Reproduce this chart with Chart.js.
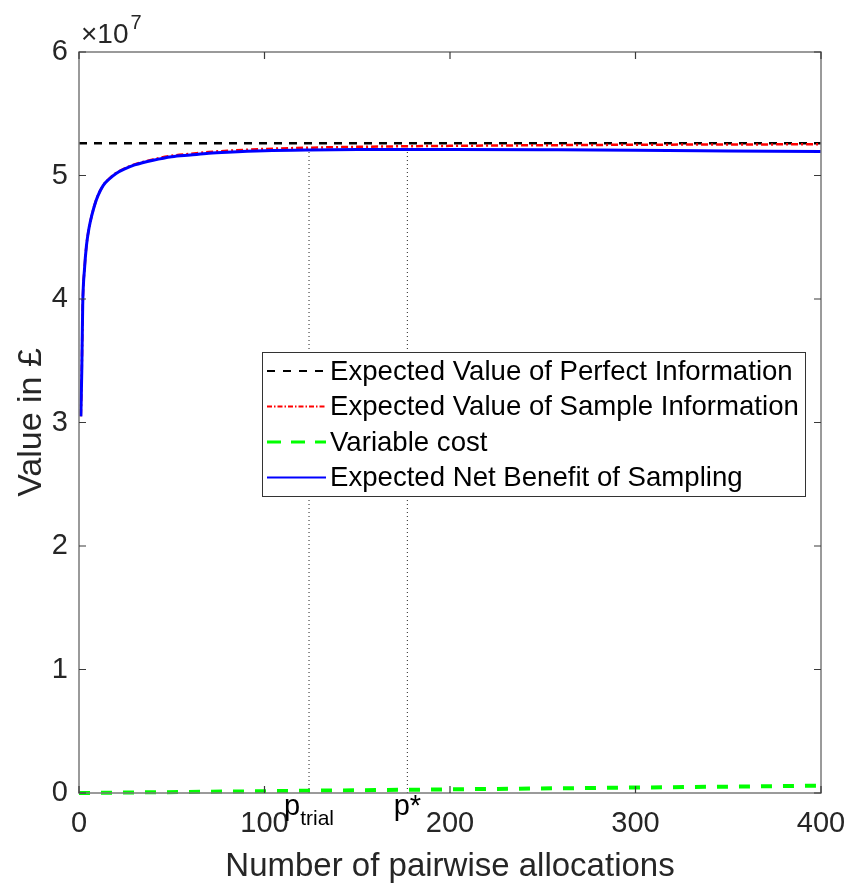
<!DOCTYPE html>
<html>
<head>
<meta charset="utf-8">
<script src="https://cdn.jsdelivr.net/npm/chart.js@4/dist/chart.umd.min.js"></script>
<style>
  html, body { margin: 0; padding: 0; background: #fff; }
  canvas { display: block; }
</style>
</head>
<body>
<canvas id="chart" width="848" height="887"></canvas>
<script>
// Number of pairwise allocations at which each curve is evaluated
const allocations = [1, 1.5, 2, 3, 4, 5, 6, 8, 10, 13, 16, 20, 25, 30, 40, 50, 60, 70, 80, 100, 124, 150, 177, 200, 250, 300, 350, 400];

// Expected Value of Sample Information (£)
const evsi = [30500000, 34200000, 39500000, 42500000, 44300000, 45400000, 46200000, 47400000, 48300000, 49200000, 49700000, 50200000, 50600000, 50900000, 51300000, 51600000, 51750000, 51900000, 52000000, 52150000, 52250000, 52320000, 52370000, 52400000, 52450000, 52490000, 52510000, 52530000];

// Expected Net Benefit of Sampling (£)
const enbs = [30498500, 34197800, 39497000, 42495600, 44294100, 45392600, 46191200, 47388200, 48285300, 49180800, 49676400, 50170500, 50563100, 50855800, 51241000, 51526300, 51661500, 51796800, 51882000, 52002500, 52067100, 52098800, 52108900, 52105000, 52081300, 52047500, 51993800, 51940000];

// Variable cost of the trial (£)
const costAllocations = [0, 100, 200, 300, 400];
const variableCost = [0, 147500, 295000, 442500, 590000];

// Expected Value of Perfect Information (£)
const evpiAllocations = [0, 400];
const evpi = [52610000, 52610000];

// Trial size actually used and the optimal sample size
const pTrial = 124;
const pStar = 177;
const enbsAtTrial = 52067100;
const enbsAtStar = 52108900;

// Axis ticks
const xTicks = [0, 100, 200, 300, 400];
const yTicks = [0, 1e7, 2e7, 3e7, 4e7, 5e7, 6e7];

const pts = (xs, ys) => xs.map((v, i) => ({ x: v, y: ys[i] }));

const TEXT = '#262626';
const FONT = "'Liberation Sans', Arial, Helvetica, sans-serif";
const TICK_SIZE = 29;

// Box, inward ticks, exponent label and sample-size labels
const axesFrame = {
  id: 'axesFrame',
  afterDatasetsDraw(chart) {
    const { ctx, chartArea: a, scales: { x, y } } = chart;
    ctx.save();
    ctx.strokeStyle = '#7a7a7a';
    ctx.lineWidth = 1.5;
    ctx.strokeRect(a.left, a.top, a.right - a.left, a.bottom - a.top);
    ctx.strokeStyle = '#3a3a3a';
    ctx.lineWidth = 1.2;
    const tl = 7;
    ctx.beginPath();
    xTicks.forEach(v => {
      const px = x.getPixelForValue(v);
      ctx.moveTo(px, a.bottom); ctx.lineTo(px, a.bottom - tl);
      ctx.moveTo(px, a.top); ctx.lineTo(px, a.top + tl);
    });
    yTicks.forEach(v => {
      const py = y.getPixelForValue(v);
      ctx.moveTo(a.left, py); ctx.lineTo(a.left + tl, py);
      ctx.moveTo(a.right, py); ctx.lineTo(a.right - tl, py);
    });
    ctx.stroke();

    // ×10^7 exponent
    ctx.fillStyle = TEXT;
    ctx.textBaseline = 'alphabetic';
    ctx.textAlign = 'left';
    ctx.font = `28px ${FONT}`;
    ctx.fillText('\u00d710', a.left + 2, a.top - 9);
    const w = ctx.measureText('\u00d710').width;
    ctx.font = `20px ${FONT}`;
    ctx.fillText('7', a.left + 2 + w + 2, a.top - 23);

    // p_trial and p* labels
    ctx.fillStyle = '#000';
    const base = a.bottom + 22;
    ctx.font = `${TICK_SIZE}px ${FONT}`;
    const pw = ctx.measureText('p').width;
    ctx.font = `21px ${FONT}`;
    const tw = ctx.measureText('trial').width;
    const px = x.getPixelForValue(pTrial) - (pw + tw) / 2;
    ctx.font = `${TICK_SIZE}px ${FONT}`;
    ctx.fillText('p', px, base);
    ctx.font = `21px ${FONT}`;
    ctx.fillText('trial', px + pw, base + 10);
    ctx.font = `${TICK_SIZE}px ${FONT}`;
    const sw = ctx.measureText('p*').width;
    ctx.fillText('p*', x.getPixelForValue(pStar) - sw / 2, base);
    ctx.restore();
  }
};

// Legend box inside the plot
const boxLegend = {
  id: 'boxLegend',
  afterDraw(chart) {
    const { ctx } = chart;
    const items = chart.data.datasets.filter(d => d.inLegend);
    const left = 262, top = 352, right = 805, rowH = 35.5;
    ctx.save();
    ctx.fillStyle = '#fff';
    ctx.fillRect(left, top, right - left, rowH * items.length + 2);
    ctx.strokeStyle = '#333';
    ctx.lineWidth = 1;
    ctx.strokeRect(left + 0.5, top + 0.5, right - left, rowH * items.length + 2);
    ctx.font = `27.6px ${FONT}`;
    ctx.textBaseline = 'middle';
    ctx.textAlign = 'left';
    items.forEach((d, i) => {
      const cy = top + 19 + i * rowH;
      ctx.strokeStyle = d.borderColor;
      ctx.lineWidth = d.legendWidth;
      ctx.setLineDash(d.legendDash || []);
      ctx.beginPath();
      ctx.moveTo(267, cy); ctx.lineTo(326, cy);
      ctx.stroke();
      ctx.setLineDash([]);
      ctx.fillStyle = '#000';
      ctx.fillText(d.label, 330, cy + 1);
    });
    ctx.restore();
  }
};

const lineBase = { pointRadius: 0, fill: false, clip: false, tension: 0 };

new Chart(document.getElementById('chart'), {
  type: 'line',
  data: {
    datasets: [
      { ...lineBase, label: 'Expected Value of Perfect Information', data: pts(evpiAllocations, evpi),
        borderColor: '#000000', borderWidth: 2.5, borderDash: [8, 7], legendWidth: 2, legendDash: [8, 8],
        order: 6, inLegend: true },
      { ...lineBase, label: 'Expected Value of Sample Information', data: pts(allocations, evsi),
        borderColor: '#ff0000', borderWidth: 2.5, borderDash: [7, 3, 2, 3], legendWidth: 2, legendDash: [5, 2, 1.5, 2],
        order: 5, inLegend: true, cubicInterpolationMode: 'monotone' },
      { ...lineBase, label: 'Variable cost', data: pts(costAllocations, variableCost),
        borderColor: '#00ff00', borderWidth: 4, borderDash: [11, 11], legendWidth: 3, legendDash: [14, 10],
        order: 4, inLegend: true },
      { ...lineBase, label: 'Expected Net Benefit of Sampling', data: pts(allocations, enbs),
        borderColor: '#0000ff', borderWidth: 3, legendWidth: 2, order: 3, inLegend: true,
        cubicInterpolationMode: 'monotone' },
      { ...lineBase, label: 'p_trial', data: [{ x: pTrial, y: 0 }, { x: pTrial, y: enbsAtTrial }],
        borderColor: '#222', borderWidth: 1, borderDash: [1, 3], order: 1 },
      { ...lineBase, label: 'p*', data: [{ x: pStar, y: 0 }, { x: pStar, y: enbsAtStar }],
        borderColor: '#222', borderWidth: 1, borderDash: [1, 3], order: 1 }
    ]
  },
  options: {
    responsive: false,
    animation: false,
    layout: { padding: { top: 52, right: 27, left: 0, bottom: 0 } },
    plugins: { legend: { display: false }, tooltip: { enabled: false } },
    scales: {
      x: {
        type: 'linear', min: 0, max: 400,
        afterBuildTicks: s => { s.ticks = xTicks.map(v => ({ value: v })); },
        afterFit: s => { s.height = 94; s.paddingLeft = 0; s.paddingRight = 0; },
        grid: { display: false, drawTicks: false },
        border: { display: false },
        ticks: { color: TEXT, font: { family: FONT, size: TICK_SIZE }, padding: 14, maxRotation: 0, autoSkip: false },
        title: { display: true, text: 'Number of pairwise allocations', color: TEXT,
                 font: { family: FONT, size: 33 }, padding: { top: 0, bottom: 0 } }
      },
      y: {
        type: 'linear', min: 0, max: 6e7,
        afterBuildTicks: s => { s.ticks = yTicks.map(v => ({ value: v })); },
        afterFit: s => { s.width = 79; s.paddingTop = 0; s.paddingBottom = 0; },
        grid: { display: false, drawTicks: false },
        border: { display: false },
        ticks: { color: TEXT, font: { family: FONT, size: TICK_SIZE }, padding: 11,
                 callback: v => String(Math.round(v / 1e7)) },
        title: { display: true, text: 'Value in \u00a3', color: TEXT,
                 font: { family: FONT, size: 34 }, padding: { top: 11, bottom: 0 } }
      }
    }
  },
  plugins: [axesFrame, boxLegend]
});
</script>
</body>
</html>
